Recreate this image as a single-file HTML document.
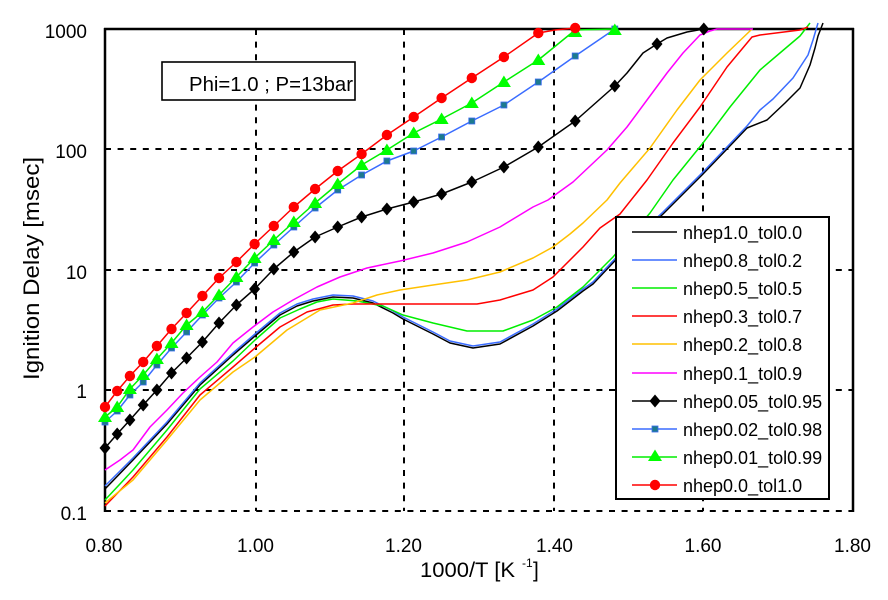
<!DOCTYPE html>
<html><head><meta charset="utf-8"><style>
html,body{margin:0;padding:0;background:#fff;}
svg{display:block;}
text{font-family:"Liberation Sans",Arial,sans-serif;fill:#000;}
</style></head><body>
<svg width="888" height="600" viewBox="0 0 888 600" xmlns="http://www.w3.org/2000/svg">
<rect width="888" height="600" fill="#fff"/>
<defs>
<polygon id="dia" points="0,-6.5 5.5,0 0,6.5 -5.5,0" fill="#000"/>
<rect id="sq" x="-3" y="-3" width="6" height="6" fill="#1d7a8e" stroke="#3a6cf0" stroke-width="0.8"/>
<polygon id="tri" points="0,-6.5 7,5 -7,5" fill="#00ff00"/>
<circle id="cir" r="5.2" fill="#ff0000"/>
</defs>
<!-- grid -->
<g stroke="#000" stroke-width="2" stroke-dasharray="6 6.6" fill="none">
<line x1="256" y1="29" x2="256" y2="511"/>
<line x1="404" y1="29" x2="404" y2="511"/>
<line x1="554" y1="29" x2="554" y2="511"/>
<line x1="703" y1="29" x2="703" y2="511"/>
<line x1="105" y1="149" x2="853" y2="149"/>
<line x1="105" y1="270" x2="853" y2="270"/>
<line x1="105" y1="390" x2="853" y2="390"/>
<line x1="105" y1="511" x2="853" y2="511"/>
</g>
<g stroke="#000" stroke-width="2.5" fill="none">
<line x1="105" y1="28" x2="105" y2="512"/>
<line x1="104" y1="29" x2="854" y2="29"/>
<line x1="853" y1="28" x2="853" y2="512"/>
</g>
<!-- series -->
<g fill="none" stroke-width="1.5" stroke-linejoin="round">
<polyline stroke="#000" points="105,489 133,460 167,424 200,385 233,355 255,336 280,315 297,306 313,301 333,297 353,298 373,303 393,313 403,319 433,334 450,343 473,348 500,344 533,326 557,311 583,291 593,284 627,248 663,214 703,174 727,149 747,128 767,120 785,103 800,88 810,65 815,48 818,36 823,23"/>
<polyline stroke="#3a6cff" points="105,486 133,458 167,422 200,383 233,353 255,334 280,313 297,304 313,299 333,295 353,296 373,301 393,311 403,317 433,332 450,341 473,346 500,342 533,324 557,309 583,289 593,282 627,246 663,212 703,172 727,147 747,126 760,110 773,99 793,78 808,55 813,40 818,23"/>
<polyline stroke="#00ee00" points="105,500 133,470 167,430 200,389 233,361 255,340 280,318 300,309 317,302 333,299 357,301 383,306 403,315 433,323 467,331 503,331 533,320 557,307 583,287 600,270 613,257 650,213 673,180 703,143 730,107 760,70 787,47 800,36 810,23"/>
<polyline stroke="#ff0000" points="105,506 133,477 167,437 200,395 233,367 255,348 280,327 307,312 333,305 353,304 477,304 500,300 533,290 553,277 583,247 600,228 620,214 647,180 673,143 700,107 727,67 752,37 760,35 800,30 808,27"/>
<polyline stroke="#ffc000" points="105,503 133,480 167,440 200,400 233,372 255,357 287,330 320,310 353,303 377,295 400,290 433,285 467,280 500,272 533,258 553,247 570,234 583,223 607,200 620,183 650,148 677,110 700,80 727,53 752,29"/>
<polyline stroke="#ff00ff" points="105,470 120,460 133,450 150,427 167,410 183,393 200,377 217,362 233,343 253,327 273,312 293,300 317,287 340,277 367,268 400,261 433,253 467,242 500,227 533,207 548,200 573,182 590,166 607,150 627,127 647,100 667,73 683,53 700,35 710,31 717,29 753,29"/>
<polyline stroke="#000" points="105,448 117.2,434 129.9,420 143.2,405 156.9,390 171.5,373 186.6,358 202.4,342 219,323 236.4,305 254.6,289 273.8,269 293.8,252 315.1,237 337.7,227 361.6,217 386.9,209 413.7,202 441.6,194 471.8,182 503.9,167 538.3,147 575.2,121 614.8,86 627,73 643,53 657,44 667,38 687,32 703.8,29"/>
<polyline stroke="#3a6cff" points="105,422 117.2,411 129.9,395 143.2,382 156.9,365 171.5,348 186.6,332 202.4,315 219,298 236.4,282 254.6,263 273.8,245 293.8,227 315.1,208 337.7,190 361.6,175 386.9,161 413.7,151 441.6,137 471.8,121 503.9,105 538.3,82 575.2,56 614.8,29"/>
<polyline stroke="#00ee00" points="105,417 117.2,407 129.9,389 143.2,375 156.9,359 171.5,343 186.6,325 202.4,312 219,295 236.4,277 254.6,258 273.8,240 293.8,222 315.1,203 337.7,184 361.6,165 386.9,150 413.7,133 441.6,119 471.8,103 503.9,82 538.3,60 575.2,30 614.8,29"/>
<polyline stroke="#ff0000" points="105,407 117.2,391 129.9,376 143.2,362 156.9,346 171.5,329 186.6,313 202.4,296 219,278 236.4,262 254.6,244 273.8,226 293.8,207 315.1,189 337.7,171 361.6,154 386.9,135 413.7,117 441.6,98 471.8,78 503.9,57 538.3,33 555,30 575.2,28"/>
</g>
<!-- markers -->
<g>
<use href="#dia" x="105" y="448"/><use href="#dia" x="117.2" y="434"/><use href="#dia" x="129.9" y="420"/><use href="#dia" x="143.2" y="405"/><use href="#dia" x="156.9" y="390"/><use href="#dia" x="171.5" y="373"/><use href="#dia" x="186.6" y="358"/><use href="#dia" x="202.4" y="342"/><use href="#dia" x="219" y="323"/><use href="#dia" x="236.4" y="305"/><use href="#dia" x="254.6" y="289"/><use href="#dia" x="273.8" y="269"/><use href="#dia" x="293.8" y="252"/><use href="#dia" x="315.1" y="237"/><use href="#dia" x="337.7" y="227"/><use href="#dia" x="361.6" y="217"/><use href="#dia" x="386.9" y="209"/><use href="#dia" x="413.7" y="202"/><use href="#dia" x="441.6" y="194"/><use href="#dia" x="471.8" y="182"/><use href="#dia" x="503.9" y="167"/><use href="#dia" x="538.3" y="147"/><use href="#dia" x="575.2" y="121"/><use href="#dia" x="614.8" y="86"/><use href="#dia" x="657" y="44"/><use href="#dia" x="703.8" y="29"/>
</g>
<g>
<use href="#sq" x="105" y="422"/><use href="#sq" x="117.2" y="411"/><use href="#sq" x="129.9" y="395"/><use href="#sq" x="143.2" y="382"/><use href="#sq" x="156.9" y="365"/><use href="#sq" x="171.5" y="348"/><use href="#sq" x="186.6" y="332"/><use href="#sq" x="202.4" y="315"/><use href="#sq" x="219" y="298"/><use href="#sq" x="236.4" y="282"/><use href="#sq" x="254.6" y="263"/><use href="#sq" x="273.8" y="245"/><use href="#sq" x="293.8" y="227"/><use href="#sq" x="315.1" y="208"/><use href="#sq" x="337.7" y="190"/><use href="#sq" x="361.6" y="175"/><use href="#sq" x="386.9" y="161"/><use href="#sq" x="413.7" y="151"/><use href="#sq" x="441.6" y="137"/><use href="#sq" x="471.8" y="121"/><use href="#sq" x="503.9" y="105"/><use href="#sq" x="538.3" y="82"/><use href="#sq" x="575.2" y="56"/><use href="#sq" x="614.8" y="29"/>
</g>
<g>
<use href="#tri" x="105" y="417"/><use href="#tri" x="117.2" y="407"/><use href="#tri" x="129.9" y="389"/><use href="#tri" x="143.2" y="375"/><use href="#tri" x="156.9" y="359"/><use href="#tri" x="171.5" y="343"/><use href="#tri" x="186.6" y="325"/><use href="#tri" x="202.4" y="312"/><use href="#tri" x="219" y="295"/><use href="#tri" x="236.4" y="277"/><use href="#tri" x="254.6" y="258"/><use href="#tri" x="273.8" y="240"/><use href="#tri" x="293.8" y="222"/><use href="#tri" x="315.1" y="203"/><use href="#tri" x="337.7" y="184"/><use href="#tri" x="361.6" y="165"/><use href="#tri" x="386.9" y="150"/><use href="#tri" x="413.7" y="133"/><use href="#tri" x="441.6" y="119"/><use href="#tri" x="471.8" y="103"/><use href="#tri" x="503.9" y="82"/><use href="#tri" x="538.3" y="60"/><use href="#tri" x="575.2" y="32"/><use href="#tri" x="614.8" y="30"/>
</g>
<g>
<use href="#cir" x="105" y="407"/><use href="#cir" x="117.2" y="391"/><use href="#cir" x="129.9" y="376"/><use href="#cir" x="143.2" y="362"/><use href="#cir" x="156.9" y="346"/><use href="#cir" x="171.5" y="329"/><use href="#cir" x="186.6" y="313"/><use href="#cir" x="202.4" y="296"/><use href="#cir" x="219" y="278"/><use href="#cir" x="236.4" y="262"/><use href="#cir" x="254.6" y="244"/><use href="#cir" x="273.8" y="226"/><use href="#cir" x="293.8" y="207"/><use href="#cir" x="315.1" y="189"/><use href="#cir" x="337.7" y="171"/><use href="#cir" x="361.6" y="154"/><use href="#cir" x="386.9" y="135"/><use href="#cir" x="413.7" y="117"/><use href="#cir" x="441.6" y="98"/><use href="#cir" x="471.8" y="78"/><use href="#cir" x="503.9" y="57"/><use href="#cir" x="538.3" y="33"/><use href="#cir" x="575.2" y="28"/>
</g>
<!-- Phi box -->
<rect x="162" y="62" width="193" height="38" fill="#fff" stroke="#000" stroke-width="1.6"/>
<text x="189" y="91" font-size="20" textLength="164" lengthAdjust="spacingAndGlyphs">Phi=1.0 ; P=13bar</text>
<!-- legend -->
<rect x="616" y="217" width="213" height="282" fill="#fff" stroke="#000" stroke-width="2"/>
<g stroke-width="1.5">
<line x1="632" y1="232" x2="677" y2="232" stroke="#000"/>
<line x1="632" y1="260" x2="677" y2="260" stroke="#3a6cff"/>
<line x1="632" y1="288" x2="677" y2="288" stroke="#00ee00"/>
<line x1="632" y1="316" x2="677" y2="316" stroke="#ff0000"/>
<line x1="632" y1="344" x2="677" y2="344" stroke="#ffc000"/>
<line x1="632" y1="373" x2="677" y2="373" stroke="#ff00ff"/>
<line x1="632" y1="401" x2="677" y2="401" stroke="#000"/>
<line x1="632" y1="429" x2="677" y2="429" stroke="#3a6cff"/>
<line x1="632" y1="457" x2="677" y2="457" stroke="#00ee00"/>
<line x1="632" y1="485" x2="677" y2="485" stroke="#ff0000"/>
</g>
<use href="#dia" x="655" y="401"/>
<use href="#sq" x="655" y="429"/>
<use href="#tri" x="655" y="456"/>
<use href="#cir" x="655" y="485"/>
<g font-size="18">
<text x="683" y="239">nhep1.0_tol0.0</text>
<text x="683" y="267">nhep0.8_tol0.2</text>
<text x="683" y="295">nhep0.5_tol0.5</text>
<text x="683" y="323">nhep0.3_tol0.7</text>
<text x="683" y="351">nhep0.2_tol0.8</text>
<text x="683" y="380">nhep0.1_tol0.9</text>
<text x="683" y="408">nhep0.05_tol0.95</text>
<text x="683" y="436">nhep0.02_tol0.98</text>
<text x="683" y="464">nhep0.01_tol0.99</text>
<text x="683" y="492">nhep0.0_tol1.0</text>
</g>
<!-- y tick labels -->
<g font-size="19" text-anchor="end">
<text x="87" y="38">1000</text>
<text x="87" y="158">100</text>
<text x="87" y="279">10</text>
<text x="87" y="398">1</text>
<text x="87" y="520">0.1</text>
</g>
<!-- x tick labels -->
<g font-size="19" text-anchor="middle">
<text x="104" y="552">0.80</text>
<text x="255.5" y="552">1.00</text>
<text x="403.5" y="552">1.20</text>
<text x="554.5" y="552">1.40</text>
<text x="703" y="552">1.60</text>
<text x="852.5" y="552">1.80</text>
</g>
<!-- axis titles -->
<text x="420" y="577" font-size="21" textLength="95" lengthAdjust="spacingAndGlyphs">1000/T [K</text>
<text x="522" y="567" font-size="12">-1</text>
<text x="533" y="577" font-size="21">]</text>
<text transform="translate(39,268.5) rotate(-90)" text-anchor="middle" font-size="22" textLength="223" lengthAdjust="spacingAndGlyphs">Ignition Delay [msec]</text>
</svg>
</body></html>
